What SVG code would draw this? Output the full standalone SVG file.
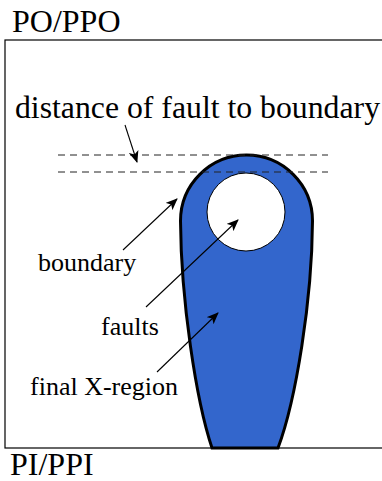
<svg xmlns="http://www.w3.org/2000/svg" width="382" height="481" viewBox="0 0 382 481">
<style>
.lbl{font-family:"Liberation Serif","Times New Roman",serif;fill:#000}
.big{font-size:32px}
.sm{font-size:26px}
.arr{stroke:#000;stroke-width:1.1;fill:none;marker-end:url(#ah)}
.dash{stroke:#222;stroke-width:1;stroke-dasharray:7,5;fill:none}
</style>
<defs>
<marker id="ah" viewBox="0 0 12 10" refX="11" refY="5" markerWidth="12" markerHeight="10" markerUnits="userSpaceOnUse" orient="auto">
<path d="M0,0 L12,5 L0,10 L3,5 Z" fill="#000"/>
</marker>
</defs>
<rect width="382" height="481" fill="#fff"/>
<g id="frame">
<rect x="5" y="40" width="400" height="408" fill="#fff" stroke="#000" stroke-width="1.2"/>
</g>
<g id="region">
<path d="M212,448 C196,400 181,300 180.5,221 A66,66 0 0 1 312.5,221 C312,300 296,400 278,448 Z" fill="#3366CC" stroke="#000" stroke-width="3"/>
</g>
<g id="fault">
<circle cx="246" cy="212" r="39" fill="#fff" stroke="#000" stroke-width="1"/>
</g>
<g id="connectors">
<line class="dash" x1="58" y1="155" x2="328" y2="155"/>
<line class="dash" x1="58" y1="172" x2="328" y2="172"/>
<line class="arr" x1="125" y1="125" x2="137" y2="162"/>
<line class="arr" x1="123" y1="250" x2="177" y2="199"/>
<line class="arr" x1="146" y1="307" x2="238" y2="220"/>
<line class="arr" x1="157" y1="372" x2="218" y2="313"/>
</g>
<g id="labels">
<text class="lbl big" x="12" y="32">PO/PPO</text>
<text class="lbl big" x="10" y="475">PI/PPI</text>
<text class="lbl big" x="15" y="118" textLength="365" lengthAdjust="spacingAndGlyphs">distance of fault to boundary</text>
<text class="lbl sm" x="38" y="271">boundary</text>
<text class="lbl sm" x="101" y="335">faults</text>
<text class="lbl sm" x="30" y="395">final X-region</text>
</g>
</svg>
